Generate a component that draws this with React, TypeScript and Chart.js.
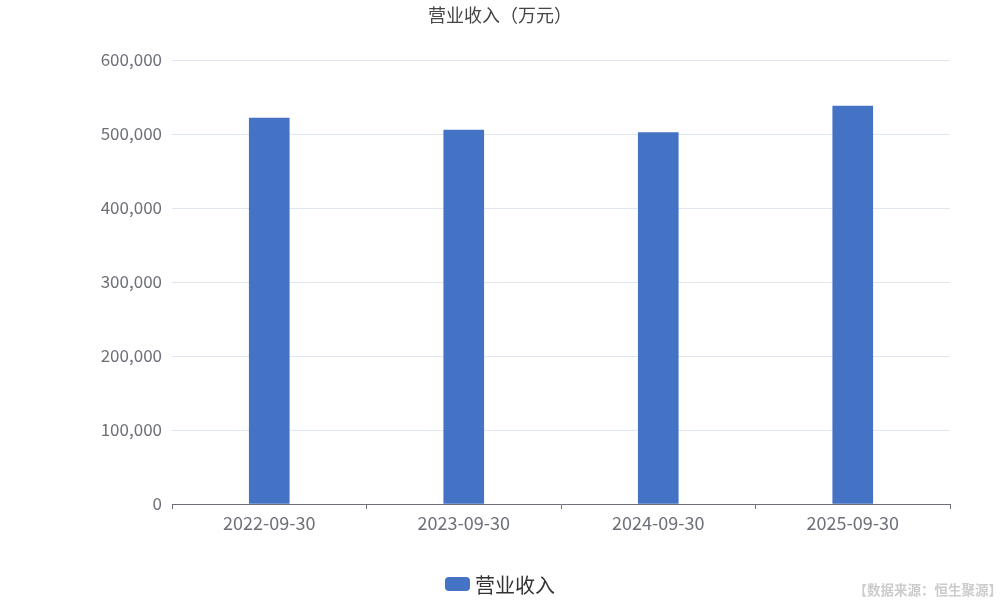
import React, { useEffect, useRef } from "react";
import { Chart, registerables } from "chart.js";

Chart.register(...registerables);

const categories = ["2022-09-30", "2023-09-30", "2024-09-30", "2025-09-30"];
const revenue = [521600, 505400, 501800, 537800];
const seriesName = "营业收入";
const titleText = "营业收入（万元）";
const sourceText = "【数据来源：恒生聚源】";

const FONT = '"Noto Sans CJK SC", "Noto Sans", sans-serif';
const BAR_COLOR = "#4472c4";

// Title, legend and source note painted on the canvas after the chart body.
const decorations = {
  id: "decorations",
  afterDraw(chart: Chart) {
    const ctx = chart.ctx;
    ctx.save();
    ctx.textBaseline = "middle";

    ctx.fillStyle = "#464646";
    ctx.font = `18px ${FONT}`;
    ctx.textAlign = "center";
    ctx.fillText(titleText, 500, 15);

    ctx.fillStyle = BAR_COLOR;
    ctx.beginPath();
    (ctx as any).roundRect(445, 577, 25, 14, 4);
    ctx.fill();
    ctx.fillStyle = "#333333";
    ctx.font = `20px ${FONT}`;
    ctx.textAlign = "left";
    ctx.fillText(seriesName, 475, 585);

    ctx.fillStyle = "#cccccc";
    ctx.font = `bold 13.5px ${FONT}`;
    ctx.textAlign = "right";
    ctx.fillText(sourceText, 1002, 590);
    ctx.restore();
  },
};

export default function App() {
  const ref = useRef<HTMLCanvasElement>(null);

  useEffect(() => {
    if (!ref.current) return;
    const chart = new Chart(ref.current, {
      type: "bar",
      data: {
        labels: categories,
        datasets: [
          {
            label: seriesName,
            data: revenue,
            backgroundColor: BAR_COLOR,
            barThickness: 40,
          },
        ],
      },
      options: {
        responsive: false,
        animation: false,
        layout: { padding: { left: 0, right: 50, top: 60, bottom: 0 } },
        plugins: {
          legend: { display: false },
          title: { display: false },
          tooltip: { enabled: false },
        },
        scales: {
          x: {
            offset: true,
            grid: {
              offset: true,
              drawOnChartArea: false,
              drawTicks: true,
              tickLength: 5,
              color: "#6e7079",
            },
            border: { display: true, color: "#6e7079" },
            ticks: {
              color: "#6e7079",
              font: { family: FONT, size: 18 },
              padding: 3,
              maxRotation: 0,
            },
            afterFit(scale: any) {
              scale.height = 96;
            },
          },
          y: {
            min: 0,
            max: 600000,
            grid: { color: "#e0e6f1", drawTicks: false },
            border: { display: false },
            ticks: {
              stepSize: 100000,
              color: "#6e7079",
              font: { family: FONT, size: 17 },
              padding: 10,
              callback: (v: any) => Number(v).toLocaleString("en-US"),
            },
            afterFit(scale: any) {
              scale.width = 172;
            },
          },
        },
      },
      plugins: [decorations],
    });
    return () => chart.destroy();
  }, []);

  return (
    <div style={{ position: "absolute", left: 0, top: 0, width: 1000, height: 600, background: "#fff" }}>
      <canvas ref={ref} width={1000} height={600} />
    </div>
  );
}
